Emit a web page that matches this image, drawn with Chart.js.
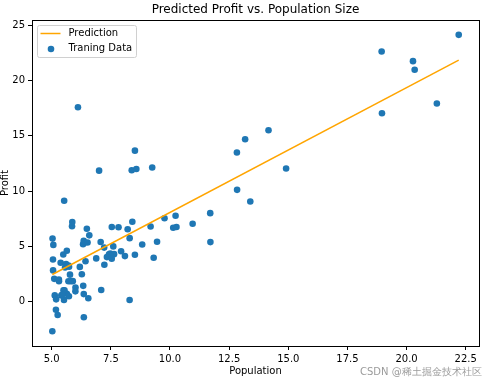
<!DOCTYPE html>
<html>
<head>
<meta charset="utf-8">
<script src="https://cdn.jsdelivr.net/npm/chart.js@4.4.1/dist/chart.umd.min.js"></script>
<style>
  html, body { margin: 0; padding: 0; background: #fff; }
  canvas { display: block; }
</style>
</head>
<body>
<canvas id="myChart" width="502" height="388"></canvas>
<script>
// training data (population in 10,000s, profit in $10,000s)
const population = [6.1101,5.5277,8.5186,7.0032,5.8598,8.3829,7.4764,8.5781,6.4862,5.0546,
  5.7107,14.164,5.734,8.4084,5.6407,5.3794,6.3654,5.1301,6.4296,7.0708,
  6.1891,20.27,5.4901,6.3261,5.5649,18.945,12.828,10.957,13.176,22.203,
  5.2524,6.5894,9.2482,5.8918,8.2111,7.9334,8.0959,5.6063,12.836,6.3534,
  5.4069,6.8825,11.708,5.7737,7.8247,7.0931,5.0702,5.8014,11.7,5.5416,
  7.5402,5.3077,7.4239,7.6031,6.3328,6.3589,6.2742,5.6397,9.3102,9.4536,
  8.8254,5.1793,21.279,14.908,18.959,7.2182,8.2951,10.236,5.4994,20.341,
  10.136,7.3345,6.0062,7.2259,5.0269,6.5479,7.5386,5.0365,10.274,5.1077,
  5.7292,5.1884,6.3557,9.7687,6.5159,8.5172,9.1802,6.002,5.5204,5.0594,
  5.7077,7.6366,5.8707,5.3054,8.2934,13.394,5.4369]
const profit = [17.592,9.1302,13.662,11.854,6.8233,11.886,4.3483,12,6.5987,3.8166,
  3.2522,15.505,3.1551,7.2258,0.71618,3.5129,5.3048,0.56077,3.6518,5.3893,
  3.1386,21.767,4.263,5.1875,3.0825,22.638,13.501,7.0467,14.692,24.147,
  -1.22,5.9966,12.134,1.8495,6.5426,4.5623,4.1164,3.3928,10.117,5.4974,
  0.55657,3.9115,5.3854,2.4406,6.7318,1.0463,5.1337,1.844,8.0043,1.0179,
  6.7504,1.8396,4.2885,4.9981,1.4233,-1.4211,2.4756,4.6042,3.9624,5.4141,
  5.1694,-0.74279,17.929,12.054,17.054,4.8852,5.7442,7.7754,1.0173,20.992,
  6.6799,4.0259,1.2784,3.3411,-2.6807,0.29678,3.8845,5.7014,6.7526,2.0576,
  0.47953,0.20421,0.67861,7.5435,5.3436,4.2415,6.7981,0.92695,0.152,2.8214,
  1.8451,4.2959,7.2029,1.9869,0.14454,9.0551,0.61705]

// fitted line at its two ends
const lineX = [5.0269, 22.203]
const lineY = [2.45, 21.85]

const xTicks = [5.0, 7.5, 10.0, 12.5, 15.0, 17.5, 20.0, 22.5]
const yTicks = [0, 5, 10, 15, 20, 25]

const blue = '#1f77b4'
const orange = '#ffa500'
const font = 'DejaVu Sans'

const framePlugin = {
  id: 'frame',
  afterDraw(chart) {
    const c = chart.ctx
    const a = chart.chartArea
    c.save()
    c.strokeStyle = '#000'
    c.lineWidth = 1
    c.strokeRect(Math.round(a.left) + 0.5, Math.round(a.top) + 0.5,
      Math.round(a.right - a.left), Math.round(a.bottom - a.top))

    const cx = (a.left + a.right) / 2
    c.fillStyle = '#000'
    c.textAlign = 'center'
    c.textBaseline = 'middle'
    c.font = '12px "' + font + '"'
    c.fillText('Predicted Profit vs. Population Size', cx, 10)

    c.font = '10px "' + font + '"'
    c.fillText('Population', cx, 371)
    c.save()
    c.translate(5, (a.top + a.bottom) / 2)
    c.rotate(-Math.PI / 2)
    c.fillText('Profit', 0, 0)
    c.restore()

    // legend box, upper left inside the axes
    const lx = a.left + 5.5, ly = a.top + 5.5, lw = 99, lh = 32
    c.beginPath()
    c.roundRect(lx, ly, lw, lh, 2)
    c.fillStyle = 'rgba(255,255,255,0.8)'
    c.fill()
    c.strokeStyle = '#d0d0d0'
    c.stroke()

    c.strokeStyle = orange
    c.lineWidth = 1.5
    c.beginPath()
    c.moveTo(lx + 3, ly + 8)
    c.lineTo(lx + 23, ly + 8)
    c.stroke()
    c.fillStyle = blue
    c.beginPath()
    c.arc(lx + 13.5, ly + 23.5, 3.3, 0, Math.PI * 2)
    c.fill()

    c.fillStyle = '#000'
    c.textAlign = 'left'
    c.fillText('Prediction', lx + 31, ly + 8)
    c.fillText('Traning Data', lx + 31, ly + 23)

    // watermark
    c.fillStyle = 'rgba(120,120,120,0.75)'
    c.font = '10px "' + font + '"'
    c.fillText('CSDN @稀土掘金技术社区', 360, 372)
    c.restore()
  }
}

const points = population.map((x, i) => ({ x: x, y: profit[i] }))
const linePts = lineX.map((x, i) => ({ x: x, y: lineY[i] }))

const axis = (ticks, fmt, fit) => ({
  type: 'linear',
  afterBuildTicks: (s) => { s.ticks = ticks.map(v => ({ value: v })) },
  afterFit: fit,
  grid: { display: true, drawOnChartArea: false, drawTicks: true, tickLength: 4, color: '#000', tickColor: '#000' },
  border: { display: true, color: '#000', width: 1 },
  ticks: { color: '#000', font: { family: font, size: 10 }, padding: 3, callback: fmt }
})

const config = {
  type: 'scatter',
  data: {
    datasets: [{
      label: 'Prediction',
      type: 'line',
      data: linePts,
      borderColor: orange,
      borderWidth: 1.5,
      pointRadius: 0,
      fill: false,
      tension: 0
    }, {
      label: 'Traning Data',
      data: points,
      backgroundColor: blue,
      borderColor: blue,
      borderWidth: 0,
      pointRadius: 3.3
    }]
  },
  options: {
    responsive: false,
    animation: false,
    layout: { padding: { top: 20, right: 23, left: 0, bottom: 0 } },
    scales: {
      x: Object.assign(axis(xTicks, (v) => v.toFixed(1), (s) => { s.height = 42 }), { min: 4.168, max: 23.06 }),
      y: Object.assign(axis(yTicks, (v) => String(v), (s) => { s.width = 32 }), { min: -4.02, max: 25.49 })
    },
    plugins: {
      legend: { display: false },
      tooltip: { enabled: false }
    }
  },
  plugins: [framePlugin]
}

const myChart = new Chart(document.getElementById('myChart'), config)
</script>
</body>
</html>
